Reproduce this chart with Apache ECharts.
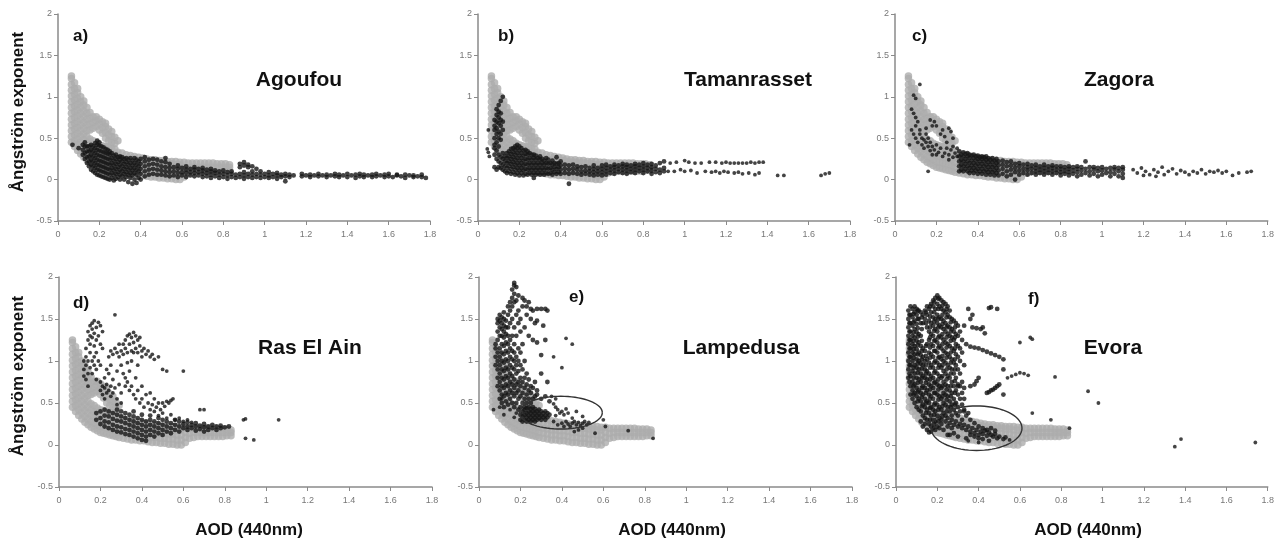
<!DOCTYPE html>
<html><head><meta charset="utf-8">
<script src="https://cdn.jsdelivr.net/npm/echarts@6/dist/echarts.min.js"></script>
<style>html,body{margin:0;padding:0;background:#fff}#c{width:1277px;height:542px}</style>
</head><body><div id="c"></div>
<script>
// ---------- DATA ----------
const xTicks = ['0','0.2','0.4','0.6','0.8','1','1.2','1.4','1.6','1.8'];
const yTicks = ['-0.5','0','0.5','1','1.5','2'];
const panelLetters = ['a)','b)','c)','d)','e)','f)'];
const stationNames = ['Agoufou','Tamanrasset','Zagora','Ras El Ain','Lampedusa','Evora'];
const xTitle = 'AOD (440nm)';
const yTitle = 'Ångström exponent';

// grey cloud (same in every panel): [x, [y values]]
const grayCols = [
 [0.065,[0.45,0.52,0.59,0.66,0.73,0.80,0.87,0.94,1.01,1.08,1.15,1.22,1.25]],
 [0.08,[0.40,0.47,0.54,0.61,0.68,0.75,0.82,0.89,0.96,1.03,1.10,1.17]],
 [0.095,[0.35,0.42,0.49,0.56,0.63,0.70,0.77,0.84,0.91,0.98,1.05,1.10]],
 [0.11,[0.31,0.38,0.45,0.52,0.59,0.66,0.73,0.80,0.87,0.94,1.00]],
 [0.125,[0.27,0.34,0.41,0.48,0.55,0.62,0.69,0.76,0.83,0.90,0.95]],
 [0.14,[0.24,0.31,0.38,0.45,0.52,0.59,0.66,0.73,0.80,0.87]],
 [0.155,[0.21,0.28,0.35,0.42,0.49,0.60,0.67,0.74,0.81]],
 [0.17,[0.19,0.26,0.33,0.40,0.47,0.62,0.69,0.76]],
 [0.185,[0.17,0.24,0.31,0.38,0.44,0.64,0.71,0.76]],
 [0.20,[0.15,0.22,0.29,0.36,0.42,0.60,0.67,0.73]],
 [0.215,[0.14,0.21,0.28,0.35,0.41,0.56,0.63,0.70]],
 [0.23,[0.13,0.20,0.27,0.34,0.40,0.50,0.57,0.64,0.68]],
 [0.245,[0.12,0.19,0.26,0.33,0.39,0.47,0.54,0.61]],
 [0.26,[0.11,0.18,0.25,0.32,0.38,0.45,0.52,0.58]],
 [0.275,[0.10,0.17,0.24,0.31,0.37,0.44,0.51]],
 [0.29,[0.09,0.15,0.21,0.27,0.33,0.47]],
 [0.31,[0.08,0.14,0.20,0.26,0.32]],
 [0.33,[0.07,0.13,0.19,0.25,0.30]],
 [0.35,[0.06,0.12,0.18,0.24,0.29]],
 [0.37,[0.06,0.12,0.18,0.24,0.28]],
 [0.39,[0.05,0.11,0.17,0.23,0.27]],
 [0.41,[0.05,0.11,0.17,0.23,0.26]],
 [0.43,[0.04,0.10,0.16,0.22,0.25]],
 [0.45,[0.03,0.09,0.15,0.21,0.24]],
 [0.47,[0.03,0.09,0.15,0.21,0.24]],
 [0.49,[0.02,0.08,0.14,0.20,0.23]],
 [0.51,[0.02,0.08,0.14,0.20,0.23]],
 [0.53,[0.01,0.07,0.13,0.19,0.22]],
 [0.55,[0.01,0.07,0.13,0.19,0.22]],
 [0.57,[0.00,0.06,0.12,0.18,0.22]],
 [0.59,[0.00,0.06,0.12,0.18,0.21]],
 [0.61,[0.03,0.09,0.15,0.21]],
 [0.63,[0.08,0.14,0.20]],
 [0.65,[0.09,0.15,0.20]],
 [0.67,[0.10,0.15,0.20]],
 [0.69,[0.10,0.15,0.20]],
 [0.71,[0.10,0.15,0.20]],
 [0.73,[0.10,0.15,0.20]],
 [0.75,[0.10,0.15,0.20]],
 [0.77,[0.10,0.15,0.19]],
 [0.79,[0.10,0.15,0.19]],
 [0.81,[0.11,0.15,0.19]],
 [0.83,[0.11,0.15,0.18]]
];

// black points per panel: columns [x,[ys]] + single points [x,y]
const agoufouCols = [
 [0.07,[0.42]],[0.10,[0.38]],[0.12,[0.30,0.36,0.42]],[0.13,[0.25,0.32,0.40,0.45]],
 [0.14,[0.20,0.27,0.34,0.40]],[0.15,[0.16,0.22,0.28,0.34,0.40]],[0.16,[0.12,0.18,0.24,0.30,0.36,0.42]],
 [0.17,[0.10,0.16,0.22,0.28,0.34,0.40]],[0.18,[0.08,0.14,0.20,0.26,0.32,0.38,0.44]],
 [0.19,[0.06,0.12,0.18,0.24,0.30,0.36,0.42,0.47]],[0.20,[0.05,0.11,0.17,0.23,0.29,0.35,0.41,0.45]],
 [0.21,[0.04,0.10,0.16,0.22,0.28,0.34,0.40]],[0.22,[0.03,0.09,0.15,0.21,0.27,0.33,0.39]],
 [0.23,[0.02,0.08,0.14,0.20,0.26,0.32,0.37]],[0.24,[0.01,0.07,0.13,0.19,0.25,0.31,0.36]],
 [0.25,[0.00,0.06,0.12,0.18,0.24,0.30,0.34]],[0.26,[0.02,0.08,0.14,0.20,0.26,0.32]],
 [0.27,[-0.01,0.05,0.11,0.17,0.23,0.29]],[0.28,[0.01,0.07,0.13,0.19,0.25,0.30]],
 [0.29,[0.03,0.09,0.15,0.21,0.27]],[0.30,[0.00,0.06,0.12,0.18,0.24,0.28]],
 [0.31,[0.04,0.10,0.16,0.22,0.27]],[0.32,[0.00,0.07,0.13,0.19,0.25]],
 [0.33,[0.03,0.09,0.15,0.21,0.26]],[0.34,[-0.03,0.06,0.12,0.18,0.24]],
 [0.35,[0.02,0.08,0.14,0.20,0.26]],[0.36,[-0.05,0.05,0.11,0.17,0.23]],
 [0.37,[0.00,0.08,0.14,0.20,0.26]],[0.38,[-0.04,0.06,0.12,0.18,0.24]],
 [0.39,[0.02,0.10,0.16,0.22]],[0.40,[0.00,0.07,0.13,0.19,0.25]],
 [0.42,[0.04,0.10,0.16,0.22,0.27]],[0.44,[0.06,0.12,0.18,0.24]],[0.46,[0.07,0.13,0.19,0.25]],
 [0.48,[0.06,0.12,0.18,0.24]],[0.50,[0.06,0.11,0.16,0.22]],[0.52,[0.05,0.10,0.15,0.21,0.26]],
 [0.54,[0.04,0.09,0.14,0.19]],[0.56,[0.05,0.10,0.15]],[0.58,[0.03,0.08,0.13,0.17]],
 [0.60,[0.05,0.09,0.14]],[0.62,[0.03,0.08,0.12,0.16]],[0.64,[0.05,0.09,0.13]],
 [0.66,[0.04,0.08,0.12,0.15]],[0.68,[0.05,0.09,0.13]],[0.70,[0.03,0.07,0.11,0.14]],
 [0.72,[0.04,0.08,0.12]],[0.74,[0.02,0.06,0.10,0.13]],[0.76,[0.04,0.08,0.11]],
 [0.78,[0.02,0.06,0.10]],[0.80,[0.03,0.07,0.11]],[0.82,[0.01,0.05,0.09]],[0.84,[0.03,0.07,0.10]],
 [0.86,[0.02,0.06]],[0.88,[0.03,0.07,0.15,0.19]],[0.90,[0.01,0.05,0.09,0.17,0.21]],
 [0.92,[0.03,0.07,0.15,0.18]],[0.94,[0.02,0.06,0.10,0.16]],[0.96,[0.03,0.07,0.13]],
 [0.98,[0.02,0.06,0.10]],[1.00,[0.03,0.07]],[1.02,[0.02,0.05,0.09]],[1.04,[0.03,0.07]],
 [1.06,[0.01,0.05,0.08]],[1.08,[0.03,0.06]],[1.10,[-0.02,0.04,0.07]],[1.12,[0.03,0.06]],
 [1.14,[0.05]],[1.18,[0.04,0.07]],[1.20,[0.05]],[1.22,[0.03,0.06]],[1.24,[0.05]],
 [1.26,[0.04,0.07]],[1.28,[0.05]],[1.30,[0.03,0.06]],[1.32,[0.05]],[1.34,[0.04,0.07]],
 [1.36,[0.03,0.06]],[1.38,[0.05]],[1.40,[0.03,0.07]],[1.42,[0.05]],[1.44,[0.02,0.06]],
 [1.46,[0.04,0.07]],[1.48,[0.03,0.06]],[1.50,[0.05]],[1.52,[0.03,0.06]],[1.54,[0.04,0.07]],
 [1.56,[0.05]],[1.58,[0.03,0.06]],[1.60,[0.04,0.07]],[1.62,[0.03]],[1.64,[0.05,0.06]],
 [1.66,[0.04]],[1.68,[0.02,0.06]],[1.70,[0.05]],[1.72,[0.03,0.05]],[1.74,[0.04]],
 [1.76,[0.03,0.06]],[1.78,[0.02]]
];
const agoufouPts = [];

const tamanrassetCols = [
 [0.08,[0.15,0.30,0.38,0.42,0.50,0.60,0.65,0.72]],[0.09,[0.12,0.25,0.35,0.45,0.55,0.62,0.70,0.78,0.85]],
 [0.10,[0.15,0.22,0.30,0.40,0.50,0.58,0.68,0.75,0.82,0.90]],[0.11,[0.14,0.20,0.27,0.48,0.55,0.65,0.72,0.80,0.95]],
 [0.12,[0.12,0.18,0.25,0.32,0.60,0.70,1.00]],[0.13,[0.10,0.16,0.22,0.28]],[0.14,[0.08,0.14,0.20,0.26,0.32]],
 [0.15,[0.10,0.16,0.22,0.28,0.34]],[0.16,[0.07,0.13,0.19,0.25,0.31,0.37]],[0.17,[0.09,0.15,0.21,0.27,0.33,0.38]],
 [0.18,[0.06,0.12,0.18,0.24,0.30,0.36,0.40]],[0.19,[0.08,0.14,0.20,0.26,0.32,0.38,0.42]],
 [0.20,[0.05,0.11,0.17,0.23,0.29,0.35,0.40]],[0.21,[0.08,0.14,0.20,0.26,0.32,0.38]],
 [0.22,[0.05,0.11,0.17,0.23,0.29,0.35]],[0.23,[0.07,0.13,0.19,0.25,0.31,0.36]],
 [0.24,[0.06,0.12,0.18,0.24,0.30,0.34]],[0.25,[0.08,0.14,0.20,0.26,0.32]],
 [0.26,[0.06,0.12,0.18,0.24,0.30]],[0.27,[0.02,0.08,0.14,0.20,0.26,0.30]],
 [0.28,[0.06,0.12,0.18,0.24,0.29]],[0.29,[0.08,0.14,0.20,0.26]],[0.30,[0.06,0.12,0.18,0.24,0.28]],
 [0.31,[0.08,0.14,0.20,0.25]],[0.32,[0.06,0.12,0.18,0.23]],[0.33,[0.08,0.14,0.20,0.26]],
 [0.34,[0.07,0.13,0.19,0.24]],[0.35,[0.08,0.14,0.20]],[0.36,[0.06,0.12,0.18,0.23]],
 [0.37,[0.09,0.15,0.20]],[0.38,[0.07,0.13,0.19,0.27]],[0.39,[0.09,0.15,0.20]],
 [0.40,[0.07,0.12,0.17,0.22]],[0.42,[0.08,0.13,0.18]],[0.44,[-0.05,0.07,0.12,0.17]],
 [0.46,[0.08,0.13,0.18]],[0.48,[0.07,0.12,0.16]],[0.50,[0.06,0.10,0.15]],[0.52,[0.07,0.11,0.16]],
 [0.54,[0.06,0.10,0.14]],[0.56,[0.05,0.09,0.13,0.17]],[0.58,[0.06,0.10,0.14]],
 [0.60,[0.05,0.09,0.13,0.17]],[0.62,[0.06,0.10,0.14,0.18]],[0.64,[0.08,0.12,0.16]],
 [0.66,[0.07,0.11,0.15,0.18]],[0.68,[0.09,0.13,0.17]],[0.70,[0.08,0.12,0.16,0.19]],
 [0.72,[0.07,0.11,0.15,0.18]],[0.74,[0.09,0.13,0.17]],[0.76,[0.08,0.12,0.16,0.19]],
 [0.78,[0.10,0.14,0.18]],[0.80,[0.08,0.12,0.16,0.20]],[0.82,[0.10,0.14,0.18]],
 [0.84,[0.07,0.11,0.15,0.19]],[0.86,[0.09,0.13,0.17]],[0.88,[0.08,0.12,0.20]],[0.90,[0.10,0.14,0.22]]
];
const tamanrassetPts = [
 [0.05,0.60],[0.045,0.37],[0.05,0.33],[0.055,0.28],
 [0.93,0.20],[0.96,0.21],[1.00,0.23],[1.02,0.21],[1.05,0.20],[1.08,0.20],[1.12,0.21],[1.15,0.21],
 [1.18,0.20],[1.20,0.21],[1.22,0.20],[1.24,0.20],[1.26,0.20],[1.28,0.20],[1.30,0.20],[1.32,0.21],
 [1.34,0.20],[1.36,0.21],[1.38,0.21],
 [0.92,0.10],[0.95,0.10],[0.98,0.12],[1.00,0.10],[1.03,0.11],[1.06,0.08],[1.10,0.10],[1.13,0.09],
 [1.15,0.10],[1.17,0.08],[1.19,0.10],[1.21,0.09],[1.24,0.08],[1.26,0.09],[1.28,0.07],[1.31,0.08],
 [1.34,0.06],[1.36,0.08],[1.45,0.05],[1.48,0.05],[1.66,0.05],[1.68,0.07],[1.70,0.08]
];

const zagoraCols = [
 [0.31,[0.10,0.16,0.22,0.28,0.34]],[0.32,[0.12,0.18,0.24,0.30]],[0.33,[0.10,0.16,0.22,0.28,0.33]],
 [0.34,[0.13,0.19,0.25,0.31]],[0.35,[0.10,0.16,0.22,0.28,0.32]],[0.36,[0.08,0.14,0.20,0.26,0.30]],
 [0.37,[0.11,0.17,0.23,0.29]],[0.38,[0.08,0.14,0.20,0.26,0.30]],[0.39,[0.11,0.17,0.23,0.28]],
 [0.40,[0.07,0.13,0.19,0.25,0.29]],[0.41,[0.10,0.16,0.22,0.27]],[0.42,[0.07,0.13,0.19,0.25,0.28]],
 [0.43,[0.10,0.16,0.22,0.27]],[0.44,[0.06,0.12,0.18,0.24,0.28]],[0.45,[0.09,0.15,0.21,0.26]],
 [0.46,[0.06,0.12,0.18,0.24]],[0.47,[0.09,0.15,0.21,0.26]],[0.48,[0.05,0.11,0.17,0.23]],
 [0.49,[0.08,0.14,0.20,0.25]],[0.50,[0.05,0.11,0.17,0.22]],[0.52,[0.07,0.13,0.18,0.23]],
 [0.54,[0.04,0.10,0.16,0.21]],[0.56,[0.06,0.12,0.17,0.22]],[0.58,[0.00,0.09,0.14,0.19]],
 [0.60,[0.06,0.11,0.16,0.20]],[0.62,[0.08,0.13,0.18]],[0.64,[0.06,0.11,0.15,0.19]],
 [0.66,[0.08,0.13,0.17]],[0.68,[0.06,0.10,0.14,0.18]],[0.70,[0.08,0.12,0.16]],
 [0.72,[0.06,0.10,0.14,0.18]],[0.74,[0.08,0.12,0.16]],[0.76,[0.06,0.10,0.14,0.17]],
 [0.78,[0.08,0.12,0.16]],[0.80,[0.05,0.09,0.13,0.16]],[0.82,[0.07,0.11,0.15]],
 [0.84,[0.05,0.09,0.13,0.16]],[0.86,[0.07,0.11,0.15]],[0.88,[0.04,0.09,0.13,0.16]],
 [0.90,[0.06,0.11,0.15]],[0.92,[0.08,0.13,0.22]],[0.94,[0.05,0.10,0.15]],[0.96,[0.07,0.12,0.15]],
 [0.98,[0.04,0.10,0.14]],[1.00,[0.06,0.11,0.15]],[1.02,[0.08,0.13]],[1.04,[0.04,0.09,0.14]],
 [1.06,[0.07,0.12,0.15]],[1.08,[0.04,0.10,0.14]],[1.10,[0.02,0.07,0.12,0.15]]
];
const zagoraPts = [
 [0.08,0.85],[0.09,0.80],[0.10,0.75],[0.11,0.70],[0.09,1.02],[0.10,0.98],[0.12,1.15],[0.10,0.65],
 [0.08,0.60],[0.09,0.55],[0.10,0.50],[0.11,0.45],[0.12,0.55],[0.13,0.50],[0.12,0.60],[0.13,0.42],
 [0.14,0.48],[0.14,0.38],[0.15,0.45],[0.15,0.55],[0.16,0.40],[0.16,0.50],[0.17,0.35],[0.17,0.45],
 [0.18,0.40],[0.18,0.65],[0.19,0.70],[0.20,0.65],[0.17,0.72],[0.15,0.62],[0.18,0.30],[0.19,0.36],
 [0.20,0.42],[0.21,0.33],[0.22,0.38],[0.20,0.30],[0.22,0.55],[0.23,0.60],[0.24,0.52],[0.25,0.45],
 [0.26,0.62],[0.27,0.58],[0.28,0.50],[0.24,0.32],[0.25,0.38],[0.26,0.30],[0.27,0.36],[0.28,0.40],
 [0.29,0.32],[0.30,0.38],[0.28,0.27],[0.30,0.28],[0.16,0.10],[0.07,0.42],[0.23,0.28],[0.26,0.24],
 [1.15,0.12],[1.17,0.08],[1.19,0.14],[1.21,0.10],[1.23,0.06],[1.25,0.12],[1.27,0.09],[1.29,0.15],
 [1.30,0.06],[1.32,0.10],[1.34,0.13],[1.36,0.07],[1.38,0.11],[1.40,0.09],[1.42,0.06],[1.44,0.10],
 [1.46,0.08],[1.48,0.12],[1.50,0.07],[1.52,0.10],[1.54,0.09],[1.56,0.11],[1.58,0.08],[1.60,0.10],
 [1.63,0.05],[1.66,0.08],[1.70,0.09],[1.72,0.10],[1.20,0.05],[1.26,0.04]
];

const rasElAinCols = [
 [0.18,[0.30,0.38]],[0.20,[0.25,0.32,0.40]],[0.22,[0.22,0.28,0.35,0.42]],[0.24,[0.20,0.27,0.34,0.40]],
 [0.26,[0.18,0.24,0.31,0.38]],[0.28,[0.16,0.22,0.29,0.36,0.42]],[0.30,[0.15,0.21,0.28,0.34,0.40]],
 [0.32,[0.13,0.19,0.26,0.32,0.38]],[0.34,[0.12,0.18,0.24,0.30,0.36]],[0.36,[0.10,0.16,0.22,0.28,0.34,0.40]],
 [0.38,[0.08,0.14,0.20,0.26,0.32]],[0.40,[0.06,0.12,0.18,0.24,0.30,0.36]],[0.42,[0.05,0.10,0.16,0.22,0.28]],
 [0.44,[0.12,0.18,0.24,0.30,0.35]],[0.46,[0.10,0.16,0.22,0.28]],[0.48,[0.14,0.20,0.26,0.32]],
 [0.50,[0.12,0.18,0.24,0.30]],[0.52,[0.16,0.22,0.28]],[0.54,[0.14,0.20,0.26]],[0.56,[0.18,0.24,0.30]],
 [0.58,[0.16,0.22,0.28]],[0.60,[0.20,0.25]],[0.62,[0.18,0.22,0.27]],[0.64,[0.20,0.24]],
 [0.66,[0.17,0.22,0.26]],[0.68,[0.19,0.23]],[0.70,[0.16,0.21,0.25]],[0.72,[0.18,0.22]],
 [0.74,[0.20,0.24]],[0.76,[0.18,0.22]],[0.78,[0.20,0.23]],[0.80,[0.21]],[0.82,[0.22]]
];
const rasElAinPts = [
 [0.12,0.90],[0.12,1.00],[0.13,0.95],[0.13,1.05],[0.13,1.15],[0.14,0.85],[0.14,1.00],[0.14,1.25],
 [0.14,1.35],[0.15,1.42],[0.15,1.30],[0.15,1.20],[0.15,1.10],[0.15,0.92],[0.16,1.45],[0.16,1.38],
 [0.16,1.28],[0.16,1.00],[0.16,0.85],[0.17,1.48],[0.17,1.33],[0.17,1.18],[0.17,1.05],[0.17,0.95],
 [0.18,1.40],[0.18,1.25],[0.18,1.10],[0.18,0.90],[0.18,0.78],[0.19,1.46],[0.19,1.30],[0.19,1.00],
 [0.20,1.42],[0.20,1.20],[0.20,0.95],[0.21,1.35],[0.21,1.15],[0.12,0.82],[0.13,0.78],[0.14,0.70],
 [0.20,0.75],[0.20,0.65],[0.21,0.70],[0.21,0.60],[0.22,0.80],[0.22,0.68],[0.22,0.55],[0.23,0.90],
 [0.23,0.72],[0.23,0.62],[0.24,1.05],[0.24,0.85],[0.24,0.65],[0.25,1.12],[0.25,0.95],[0.25,0.70],
 [0.25,0.58],[0.26,1.08],[0.26,0.78],[0.26,0.62],[0.27,1.55],[0.27,1.15],[0.27,0.68],[0.28,1.10],
 [0.28,0.88],[0.28,0.55],[0.29,1.20],[0.29,1.05],[0.29,0.72],[0.30,1.12],[0.30,0.95],[0.30,0.62],
 [0.30,0.50],[0.31,1.08],[0.31,1.20],[0.32,1.15],[0.32,1.25],[0.33,1.10],[0.33,1.30],[0.34,1.20],
 [0.34,1.32],[0.35,1.12],[0.35,1.28],[0.36,1.34],[0.36,1.22],[0.36,1.10],[0.37,1.30],[0.37,1.15],
 [0.38,1.25],[0.38,1.10],[0.39,1.18],[0.39,1.28],[0.40,1.12],[0.40,1.05],[0.41,1.15],[0.42,1.08],
 [0.43,1.12],[0.44,1.05],[0.45,1.08],[0.46,1.02],[0.48,1.05],[0.50,0.90],[0.52,0.88],[0.60,0.88],
 [0.35,1.00],[0.38,0.95],[0.33,0.98],
 [0.31,0.85],[0.32,0.80],[0.32,0.70],[0.33,0.75],[0.34,0.65],[0.34,0.88],[0.35,0.70],[0.36,0.60],
 [0.37,0.80],[0.37,0.55],[0.38,0.65],[0.39,0.50],[0.40,0.70],[0.40,0.55],[0.41,0.45],[0.42,0.60],
 [0.43,0.50],[0.44,0.42],[0.44,0.62],[0.45,0.48],[0.46,0.55],[0.46,0.40],[0.47,0.45],[0.48,0.35],
 [0.48,0.50],[0.49,0.42],[0.50,0.38],[0.50,0.50],[0.51,0.46],[0.52,0.52],[0.53,0.50],[0.54,0.53],
 [0.55,0.55],[0.52,0.32],[0.54,0.36],[0.56,0.30],[0.58,0.32],[0.60,0.28],[0.62,0.30],[0.64,0.27],
 [0.68,0.42],[0.70,0.42],[0.28,0.48],
 [0.89,0.30],[0.90,0.31],[0.90,0.08],[0.94,0.06],[1.06,0.30]
];

const lampedusaCols = [
 [0.08,[0.95,1.05,1.15,1.20]],[0.09,[0.70,0.80,0.90,1.00,1.10,1.25,1.35,1.45,1.50]],
 [0.10,[0.55,0.65,0.75,0.85,0.95,1.05,1.15,1.30,1.40,1.48,1.55]],
 [0.11,[0.50,0.60,0.70,0.80,0.90,1.00,1.10,1.20,1.30,1.38,1.45,1.52]],
 [0.12,[0.45,0.58,0.68,0.78,0.88,0.98,1.08,1.18,1.28,1.35,1.42,1.50,1.58]],
 [0.13,[0.52,0.62,0.72,0.82,0.92,1.02,1.12,1.22,1.32,1.40,1.48]],
 [0.14,[0.48,0.60,0.70,0.80,0.90,1.00,1.10,1.20,1.30,1.40,1.55,1.65]],
 [0.15,[0.55,0.65,0.75,0.85,0.95,1.05,1.15,1.25,1.45,1.60,1.70]],
 [0.16,[0.50,0.62,0.72,0.82,0.92,1.02,1.12,1.30,1.50,1.65,1.75,1.85]],
 [0.17,[0.45,0.58,0.68,0.78,0.90,1.00,1.10,1.20,1.40,1.70,1.80,1.90,1.93]],
 [0.18,[0.50,0.62,0.72,0.85,0.95,1.05,1.30,1.55,1.72,1.88]],
 [0.19,[0.42,0.55,0.65,0.75,0.88,1.00,1.15,1.45,1.60,1.78]],
 [0.20,[0.30,0.36,0.45,0.58,0.70,0.80,0.95,1.10,1.35,1.50]],
 [0.21,[0.28,0.34,0.40,0.50,0.62,0.75,0.90,1.20,1.65,1.75]],
 [0.22,[0.30,0.36,0.42,0.45,0.55,0.68,0.80,1.00,1.40,1.72]],
 [0.23,[0.28,0.33,0.38,0.44,0.50,0.60,0.72,0.85,1.55,1.65]],
 [0.24,[0.30,0.35,0.40,0.45,0.55,0.65,0.78,1.30,1.70]],
 [0.25,[0.28,0.33,0.38,0.43,0.50,0.62,0.70,1.50,1.62]],
 [0.26,[0.30,0.35,0.40,0.45,0.55,0.68,1.25,1.60]],
 [0.27,[0.28,0.33,0.38,0.43,0.58,0.75,1.45]],
 [0.28,[0.30,0.35,0.40,0.60,0.65,1.22,1.48,1.62]],
 [0.29,[0.32,0.37,0.42]],[0.30,[0.30,0.35,0.40,0.55,0.85,1.07,1.62]],
 [0.31,[0.33,0.38,1.42]],[0.32,[0.30,0.35,0.40,0.58,1.25,1.62]],[0.33,[0.33,0.38,0.75,1.60]],[0.34,[0.36,0.52]]
];
const lampedusaPts = [
 [0.36,1.05],[0.40,0.92],[0.42,1.27],[0.45,1.20],[0.35,0.58],[0.37,0.55],
 [0.37,0.45],[0.38,0.42],[0.39,0.38],[0.40,0.40],[0.41,0.36],[0.42,0.43],[0.43,0.38],[0.37,0.35],
 [0.45,0.32],[0.36,0.28],[0.38,0.24],[0.40,0.26],[0.41,0.22],[0.42,0.28],[0.43,0.25],[0.44,0.22],
 [0.45,0.26],[0.46,0.28],[0.47,0.24],[0.48,0.27],[0.49,0.23],[0.50,0.26],[0.51,0.28],[0.52,0.24],
 [0.53,0.27],[0.50,0.20],[0.48,0.18],[0.46,0.16],[0.36,0.49],[0.47,0.40],[0.50,0.34],
 [0.60,0.30],[0.61,0.22],[0.56,0.14],[0.72,0.17],[0.84,0.08],[0.11,0.55],[0.10,0.45],[0.12,0.36],
 [0.07,0.42],[0.15,0.42],[0.18,0.38],[0.17,0.33]
];

const evoraCols = [
 [0.06,[0.80,0.90,1.00,1.10,1.20,1.30,1.40,1.50,1.60]],
 [0.065,[0.75,0.85,0.95,1.05,1.15,1.25,1.35,1.45,1.55]],
 [0.07,[0.60,0.70,0.82,0.95,1.05,1.15,1.25,1.35,1.45,1.55,1.65]],
 [0.08,[0.55,0.65,0.75,0.88,1.00,1.10,1.20,1.30,1.42,1.52,1.62]],
 [0.085,[0.60,0.70,0.80,0.92,1.04,1.14,1.24,1.34,1.46,1.56]],
 [0.09,[0.50,0.62,0.72,0.85,0.95,1.08,1.18,1.28,1.38,1.48,1.58,1.65]],
 [0.10,[0.45,0.58,0.68,0.80,0.92,1.02,1.14,1.24,1.34,1.44,1.55,1.62]],
 [0.105,[0.52,0.63,0.74,0.86,0.97,1.08,1.19,1.29,1.39,1.50,1.60]],
 [0.11,[0.42,0.55,0.65,0.78,0.90,1.00,1.10,1.22,1.32,1.50,1.60]],
 [0.12,[0.28,0.40,0.52,0.62,0.75,0.85,0.97,1.07,1.18,1.30,1.45,1.58]],
 [0.125,[0.46,0.57,0.68,0.80,0.91,1.02,1.12,1.24,1.38,1.52]],
 [0.13,[0.22,0.35,0.48,0.60,0.70,0.82,0.95,1.05,1.15,1.45,1.55]],
 [0.14,[0.25,0.32,0.45,0.55,0.68,0.80,0.90,1.00,1.12,1.50,1.60]],
 [0.145,[0.38,0.50,0.62,0.74,0.85,0.95,1.06,1.18,1.45,1.58]],
 [0.15,[0.18,0.30,0.42,0.52,0.65,0.78,0.88,1.02,1.20,1.40,1.55,1.65]],
 [0.16,[0.15,0.25,0.38,0.50,0.60,0.72,0.85,0.98,1.10,1.25,1.35,1.48,1.62]],
 [0.165,[0.30,0.44,0.55,0.66,0.78,0.92,1.04,1.16,1.28,1.40,1.53,1.65]],
 [0.17,[0.16,0.22,0.35,0.45,0.58,0.70,0.82,0.95,1.08,1.20,1.32,1.45,1.58,1.68]],
 [0.18,[0.20,0.30,0.42,0.55,0.68,0.80,0.92,1.05,1.18,1.30,1.42,1.52,1.65,1.72]],
 [0.185,[0.25,0.36,0.48,0.62,0.74,0.86,0.98,1.12,1.24,1.36,1.47,1.58,1.70]],
 [0.19,[0.18,0.28,0.40,0.50,0.62,0.75,0.88,1.00,1.12,1.25,1.38,1.50,1.62,1.75]],
 [0.20,[0.22,0.35,0.48,0.60,0.72,0.85,0.98,1.10,1.22,1.35,1.45,1.55,1.68,1.78]],
 [0.205,[0.28,0.42,0.54,0.66,0.78,0.92,1.04,1.16,1.28,1.40,1.50,1.62,1.74]],
 [0.21,[0.20,0.32,0.45,0.58,0.70,0.82,0.95,1.05,1.18,1.30,1.42,1.52,1.65,1.75]],
 [0.22,[0.25,0.30,0.42,0.55,0.68,0.80,0.92,1.02,1.15,1.28,1.40,1.50,1.62,1.72]],
 [0.225,[0.34,0.46,0.58,0.70,0.82,0.95,1.06,1.20,1.32,1.44,1.55,1.66]],
 [0.23,[0.18,0.38,0.50,0.62,0.75,0.88,1.00,1.12,1.25,1.38,1.48,1.60,1.70]],
 [0.24,[0.28,0.35,0.48,0.60,0.72,0.85,0.98,1.10,1.22,1.35,1.45,1.58,1.68]],
 [0.245,[0.40,0.54,0.66,0.78,0.90,1.04,1.16,1.28,1.40,1.52,1.62]],
 [0.25,[0.12,0.22,0.32,0.45,0.58,0.70,0.82,0.95,1.08,1.20,1.32,1.42,1.55,1.65]],
 [0.26,[0.12,0.26,0.40,0.52,0.65,0.80,0.92,1.05,1.18,1.30,1.40,1.52,1.60]],
 [0.265,[0.45,0.58,0.70,0.85,0.98,1.10,1.24,1.35,1.46]],
 [0.27,[0.20,0.30,0.35,0.48,0.62,0.75,0.90,1.02,1.15,1.28,1.38,1.50]],
 [0.28,[0.14,0.24,0.42,0.55,0.70,0.85,0.98,1.12,1.25,1.35,1.48]],
 [0.285,[0.48,0.62,0.76,0.90,1.02,1.15,1.28,1.40]],
 [0.29,[0.28,0.38,0.50,0.65,0.80,0.95,1.08,1.20,1.32,1.45]],
 [0.30,[0.10,0.22,0.35,0.45,0.60,0.70,0.72,0.90,1.05,1.18,1.30,1.42]],
 [0.31,[0.25,0.40,0.55,0.70,0.85,1.00,1.15,1.35]],
 [0.32,[0.20,0.30,0.48,0.62,0.75,1.10,1.25]],
 [0.33,[0.24,0.40,0.42,0.55,0.68,0.95,1.42]],
 [0.34,[0.08,0.18,0.35,1.20]],[0.35,[0.22,0.38,1.62]],[0.36,[0.12,0.16,0.30,0.70,1.17,1.50]],
 [0.37,[0.20,1.40,1.55]],[0.38,[0.10,0.14,0.26,0.72,1.16]],[0.39,[0.18,0.76,1.39]],
 [0.40,[0.08,0.12,0.22,0.80,1.15]],[0.41,[0.16,1.38]],[0.42,[0.07,0.13,0.20,1.13,1.40]],
 [0.43,[0.17,1.33]],[0.44,[0.11,0.18,0.62,1.11]],[0.45,[0.05,0.15,0.63,1.63]],
 [0.46,[0.12,0.20,0.65,1.09,1.64]],[0.47,[0.10,0.66]],[0.48,[0.13,0.17,0.68,1.07]],
 [0.49,[0.08,0.70,1.62]],[0.50,[0.10,0.72,1.05]],[0.52,[0.07,0.60,0.90,1.02]],[0.53,[0.09]]
];
const evoraPts = [
 [0.55,0.06],[0.35,0.05],[0.40,0.03],[0.60,1.22],[0.65,1.28],[0.66,1.26],[0.54,0.80],[0.56,0.82],
 [0.58,0.84],[0.60,0.86],[0.62,0.85],[0.64,0.83],[0.77,0.81],[0.93,0.64],[0.98,0.50],
 [0.66,0.38],[0.75,0.30],[0.84,0.20],[1.35,-0.02],[1.38,0.07],[1.74,0.03]
];

// ellipses (panels e, f): centre x, centre y, x radius, y radius
const ellipseE = [0.395, 0.385, 0.20, 0.195];
const ellipseF = [0.39, 0.20, 0.22, 0.265];

// ---------- BUILD ----------
function flat(cols){ const out=[]; cols.forEach(c=>c[1].forEach(y=>out.push([c[0],y]))); return out; }
const grayData = flat(grayCols);
const blackDense = [flat(agoufouCols), flat(tamanrassetCols), flat(zagoraCols),
  flat(rasElAinCols), flat(lampedusaCols), flat(evoraCols)];
const blackSparse = [agoufouPts, tamanrassetPts, zagoraPts, rasElAinPts, lampedusaPts, evoraPts];
const ellipses = [null,null,null,null,ellipseE,ellipseF];

const grids = [
 {left:58, top:14, width:372, height:207},
 {left:478, top:14, width:372, height:207},
 {left:895, top:14, width:375, height:207},
 {left:59, top:277, width:373, height:210},
 {left:479, top:277, width:373, height:210},
 {left:896, top:277, width:373, height:210}
];
const FONT = "'Liberation Sans', Arial, Helvetica, sans-serif";
const axisCol = '#8a8a8a';
const xAxes = [], yAxes = [], series = [];
grids.forEach((g,i)=>{
  xAxes.push({gridIndex:i, type:'value', min:0, max:1.8, interval:0.2,
    axisLine:{onZero:false, lineStyle:{color:axisCol, width:1.5}},
    axisTick:{show:true, length:4, lineStyle:{color:axisCol}},
    splitLine:{show:false},
    axisLabel:{fontSize:9, color:'#777', fontFamily:FONT, margin:9,
      formatter:(v)=>xTicks[Math.round(v/0.2)]}});
  yAxes.push({gridIndex:i, type:'value', min:-0.5, max:2, interval:0.5,
    axisLine:{show:true, lineStyle:{color:axisCol, width:1.5}},
    axisTick:{show:true, length:4, lineStyle:{color:axisCol}},
    splitLine:{show:false},
    axisLabel:{fontSize:9, color:'#777', fontFamily:FONT, margin:6,
      formatter:(v)=>yTicks[Math.round((v+0.5)/0.5)]}});
  series.push({type:'scatter', xAxisIndex:i, yAxisIndex:i, data:grayData, symbolSize:7.5,
    itemStyle:{color:'#adadad'}, silent:true, z:2});
  series.push({type:'scatter', xAxisIndex:i, yAxisIndex:i, data:blackDense[i], symbolSize:4.8,
    itemStyle:{color:'#151515'}, silent:true, z:3});
  series.push({type:'scatter', xAxisIndex:i, yAxisIndex:i, data:blackSparse[i], symbolSize:3.8,
    itemStyle:{color:'#151515'}, silent:true, z:3});
  if (ellipses[i]) {
    series.push({type:'custom', xAxisIndex:i, yAxisIndex:i, data:[ellipses[i]], silent:true, z:4,
      renderItem:(params, api)=>{
        const cx=api.value(0), cy=api.value(1), rx=api.value(2), ry=api.value(3);
        const pts=[];
        for (let k=0;k<=72;k++){ const t=k/72*Math.PI*2; pts.push(api.coord([cx+rx*Math.cos(t), cy+ry*Math.sin(t)])); }
        return {type:'polyline', shape:{points:pts}, style:{stroke:'#333', lineWidth:1.4, fill:null}};
      }});
  }
});

const letterPos = [[73,37],[498,37],[912,37],[73,304],[569,298],[1028,300]];
const namePos = [[299,80],[748,80],[1119,80],[310,348],[741,348],[1113,348]];
const graphics = [];
panelLetters.forEach((t,i)=>graphics.push({type:'text', left:letterPos[i][0], top:letterPos[i][1]-9,
  style:{text:t, font:"bold 17px "+FONT, fill:'#111'}}));
stationNames.forEach((t,i)=>graphics.push({type:'text', x:namePos[i][0], y:namePos[i][1],
  style:{text:t, font:"bold 21px "+FONT, fill:'#111', textAlign:'center', textVerticalAlign:'middle'}}));
[[18,112],[18,376]].forEach(p=>graphics.push({type:'text', x:p[0], y:p[1], rotation:Math.PI/2,
  style:{text:yTitle, font:"bold 17px "+FONT, fill:'#111', textAlign:'center', textVerticalAlign:'middle'}}));
[249,672,1088].forEach(x=>graphics.push({type:'text', x:x, y:530,
  style:{text:xTitle, font:"bold 17px "+FONT, fill:'#111', textAlign:'center', textVerticalAlign:'middle'}}));

const chart = echarts.init(document.getElementById('c'), null, {renderer:'canvas'});
chart.setOption({animation:false, backgroundColor:'#fff', grid:grids, xAxis:xAxes, yAxis:yAxes,
  series:series, graphic:graphics});
</script></body></html>
